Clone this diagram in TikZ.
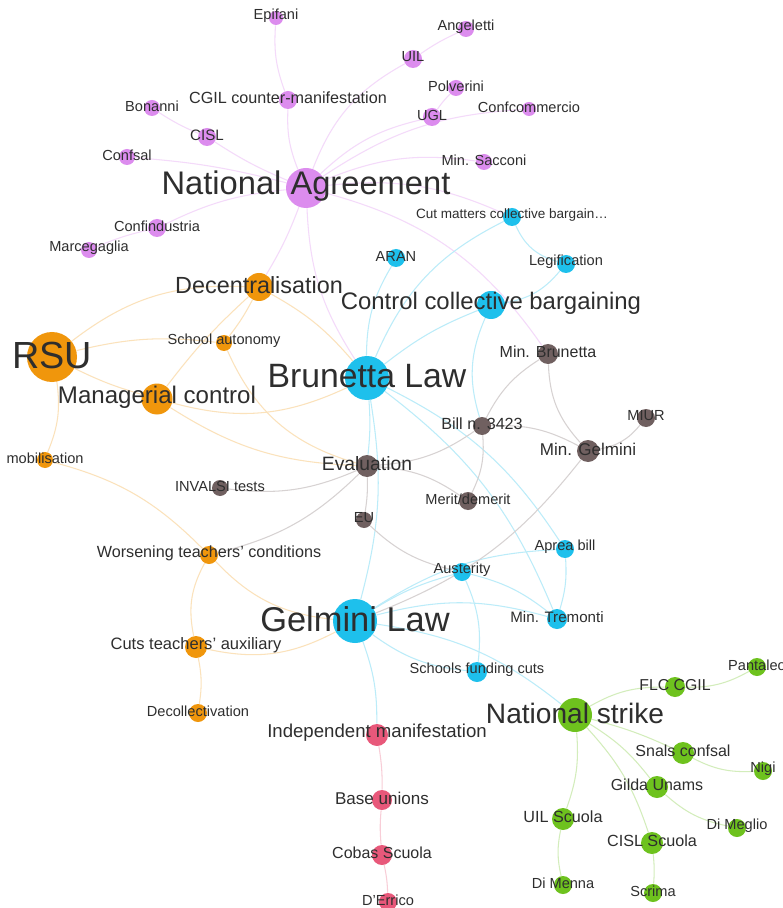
\documentclass[tikz,border=0pt]{standalone}
\usepackage{fontspec}
\setmainfont{Liberation Sans}
\definecolor{agr}{RGB}{220,140,238}
\definecolor{dec}{RGB}{240,150,12}
\definecolor{law}{RGB}{30,192,236}
\definecolor{mins}{RGB}{112,96,96}
\definecolor{base}{RGB}{232,88,122}
\definecolor{strk}{RGB}{110,194,30}
\pgfdeclarelayer{edges}
\pgfdeclarelayer{labels}
\pgfsetlayers{edges,main,labels}
\tikzset{
  vdot/.style={circle,inner sep=0pt,minimum size=#1*0.02cm},
  lbl/.style={text=black!82,inner sep=0pt},
  pe/.style={draw=agr!32,line width=0.6pt},
  oe/.style={draw=dec!28,line width=0.6pt},
  be/.style={draw=law!30,line width=0.6pt},
  we/.style={draw=mins!28,line width=0.6pt},
  ke/.style={draw=base!30,line width=0.6pt},
  ge/.style={draw=strk!30,line width=0.6pt}
}
\begin{document}
\begin{tikzpicture}[x=0.02cm,y=-0.02cm]
\useasboundingbox (0,0) rectangle (782,908);

% purple
\foreach \n/\x/\y/\d/\f/\t in {
  epifani/276/18/14/8.3/Epifani,
  angeletti/466/29/16/8.3/Angeletti,
  uil/413/59/18/8.3/UIL,
  polverini/456/88/16/8.3/Polverini,
  confcomm/529/109/14/8.3/Confcommercio,
  ugl/432/117/18/8.3/UGL,
  cgilcm/288/100/18/9.2/CGIL counter-manifestation,
  bonanni/152/108/16/8.3/Bonanni,
  cisl/207/137/18/8.6/CISL,
  confsal/127/157/16/8.3/Confsal,
  sacconi/484/162/16/8.3/Min. Sacconi,
  confind/157/228/18/8.3/Confindustria,
  marceg/89/250/16/8.3/Marcegaglia,
  natagr/306/188/40/18.6/National Agreement}
{\node[vdot=\d,fill=agr] (\n) at (\x,\y) {};
 \begin{pgfonlayer}{labels}
 \node[lbl,font=\fontsize{\f}{\f}\selectfont] (\n-t) at (\x,\y-2) {\t};
 \end{pgfonlayer}}

% orange
\foreach \n/\x/\y/\d/\f/\t in {
  decentr/259/287/28/13.3/Decentralisation,
  rsu/52/357/50/21.5/RSU,
  schoolaut/224/343/16/8.3/School autonomy,
  managerial/157/399/31/13.7/Managerial control,
  mobil/45/460/16/8.3/mobilisation,
  worsening/209/555/18/9.2/Worsening teachers' conditions,
  cutsaux/196/647/22/9.4/Cuts teachers' auxiliary,
  decollect/198/713/18/8.3/Decollectivation}
{\node[vdot=\d,fill=dec] (\n) at (\x,\y) {};
 \begin{pgfonlayer}{labels}
 \node[lbl,font=\fontsize{\f}{\f}\selectfont] (\n-t) at (\x,\y-2) {\t};
 \end{pgfonlayer}}

% blue
\foreach \n/\x/\y/\d/\f/\t in {
  cutmatters/512/217/18/7.7/Cut matters collective bargain\ldots,
  aran/396/258/18/8.3/ARAN,
  legif/566/264/18/8.3/Legification,
  controlcb/491/305/28/13.6/Control collective bargaining,
  brunetta/367/378/44/19.2/Brunetta Law,
  aprea/565/549/18/8.3/Aprea bill,
  austerity/462/572/18/8.3/Austerity,
  gelmini/355/621/44/19.6/Gelmini Law,
  tremonti/557/619/20/8.6/Min. Tremonti,
  sfc/477/672/20/8.3/Schools funding cuts}
{\node[vdot=\d,fill=law] (\n) at (\x,\y) {};
 \begin{pgfonlayer}{labels}
 \node[lbl,font=\fontsize{\f}{\f}\selectfont] (\n-t) at (\x,\y-2) {\t};
 \end{pgfonlayer}}

% brown
\foreach \n/\x/\y/\d/\f/\t in {
  minbrunetta/548/354/20/9.1/Min. Brunetta,
  miur/646/418/18/8.3/MIUR,
  bill/482/426/18/9.2/Bill n. 3423,
  mingelmini/588/451/22/9.7/Min. Gelmini,
  evaluation/367/466/22/11/Evaluation,
  invalsi/220/488/16/8.3/INVALSI tests,
  merit/468/501/18/8.3/{Merit/demerit},
  eu/364/520/16/8.3/EU}
{\node[vdot=\d,fill=mins] (\n) at (\x,\y) {};
 \begin{pgfonlayer}{labels}
 \node[lbl,font=\fontsize{\f}{\f}\selectfont] (\n-t) at (\x,\y-2) {\t};
 \end{pgfonlayer}}

% pink
\foreach \n/\x/\y/\d/\f/\t in {
  indep/377/735/22/10.6/Independent manifestation,
  baseun/382/800/20/9.7/Base unions,
  cobas/382/855/20/9.1/Cobas Scuola,
  derrico/388/902/18/8.3/D'Errico}
{\node[vdot=\d,fill=base] (\n) at (\x,\y) {};
 \begin{pgfonlayer}{labels}
 \node[lbl,font=\fontsize{\f}{\f}\selectfont] (\n-t) at (\x,\y-2) {\t};
 \end{pgfonlayer}}

% green
\foreach \n/\x/\y/\d/\f/\t in {
  pantaleo/757/667/18/8.3/Pantaleo,
  flc/675/687/20/9/FLC CGIL,
  natstrike/575/715/34/16/National strike,
  snals/683/753/22/9.1/Snals confsal,
  nigi/763/771/18/8.3/Nigi,
  gilda/657/787/22/9.1/Gilda Unams,
  uilscuola/563/819/22/9.2/UIL Scuola,
  dimeglio/737/828/18/8.3/Di Meglio,
  cislscuola/652/843/22/9.2/CISL Scuola,
  dimenna/563/885/18/8.3/Di Menna,
  scrima/653/893/18/8.3/Scrima}
{\node[vdot=\d,fill=strk] (\n) at (\x,\y) {};
 \begin{pgfonlayer}{labels}
 \node[lbl,font=\fontsize{\f}{\f}\selectfont] (\n-t) at (\x,\y-2) {\t};
 \end{pgfonlayer}}

\begin{pgfonlayer}{edges}
\fill[white] (0,0) rectangle (782,908);
\foreach \a/\b/\c in {natagr/cgilcm/12, cgilcm/epifani/12, natagr/uil/20, uil/angeletti/5,
  natagr/ugl/15, ugl/polverini/5, natagr/confcomm/15, natagr/sacconi/15,
  natagr/cisl/5, cisl/bonanni/5, natagr/confsal/-5, natagr/confind/-10,
  confind/marceg/-5, natagr/decentr/5, natagr/brunetta/-15, natagr/cutmatters/15,
  natagr/minbrunetta/20}
  \draw[pe] (\a) to[bend left=\c] (\b);
\foreach \a/\b/\c in {rsu/decentr/20, rsu/schoolaut/10, rsu/managerial/-5, rsu/mobil/15,
  decentr/schoolaut/5, decentr/managerial/-5, decentr/brunetta/10,
  schoolaut/evaluation/-25, managerial/brunetta/-20, managerial/evaluation/-15,
  mobil/worsening/15, worsening/cutsaux/-20, worsening/gelmini/-20,
  cutsaux/gelmini/-20, cutsaux/decollect/10}
  \draw[oe] (\a) to[bend left=\c] (\b);
\foreach \a/\b/\c in {brunetta/aran/15, brunetta/controlcb/8, brunetta/cutmatters/20,
  controlcb/legif/-20, cutmatters/legif/-25, controlcb/bill/-20,
  brunetta/aprea/15, brunetta/tremonti/15, brunetta/gelmini/12, brunetta/evaluation/5,
  gelmini/austerity/8, gelmini/aprea/15, gelmini/tremonti/15, gelmini/sfc/-15,
  austerity/tremonti/12, austerity/sfc/15, aprea/tremonti/10, gelmini/natstrike/15,
  gelmini/indep/10}
  \draw[be] (\a) to[bend left=\c] (\b);
\foreach \a/\b/\c in {bill/minbrunetta/15, minbrunetta/mingelmini/-20, bill/mingelmini/15,
  mingelmini/miur/-20, evaluation/bill/-15, evaluation/merit/15, bill/merit/15,
  evaluation/invalsi/15, evaluation/eu/5, eu/austerity/-15, mingelmini/gelmini/15,
  evaluation/worsening/15}
  \draw[we] (\a) to[bend left=\c] (\b);
\foreach \a/\b/\c in {indep/baseun/5, baseun/cobas/-5, cobas/derrico/5}
  \draw[ke] (\a) to[bend left=\c] (\b);
\foreach \a/\b/\c in {natstrike/flc/15, flc/pantaleo/-15, natstrike/snals/5, snals/nigi/-15,
  natstrike/gilda/10, gilda/dimeglio/-15, natstrike/uilscuola/12, uilscuola/dimenna/-12,
  natstrike/cislscuola/12, cislscuola/scrima/5}
  \draw[ge] (\a) to[bend left=\c] (\b);
\end{pgfonlayer}
\end{tikzpicture}
\end{document}
